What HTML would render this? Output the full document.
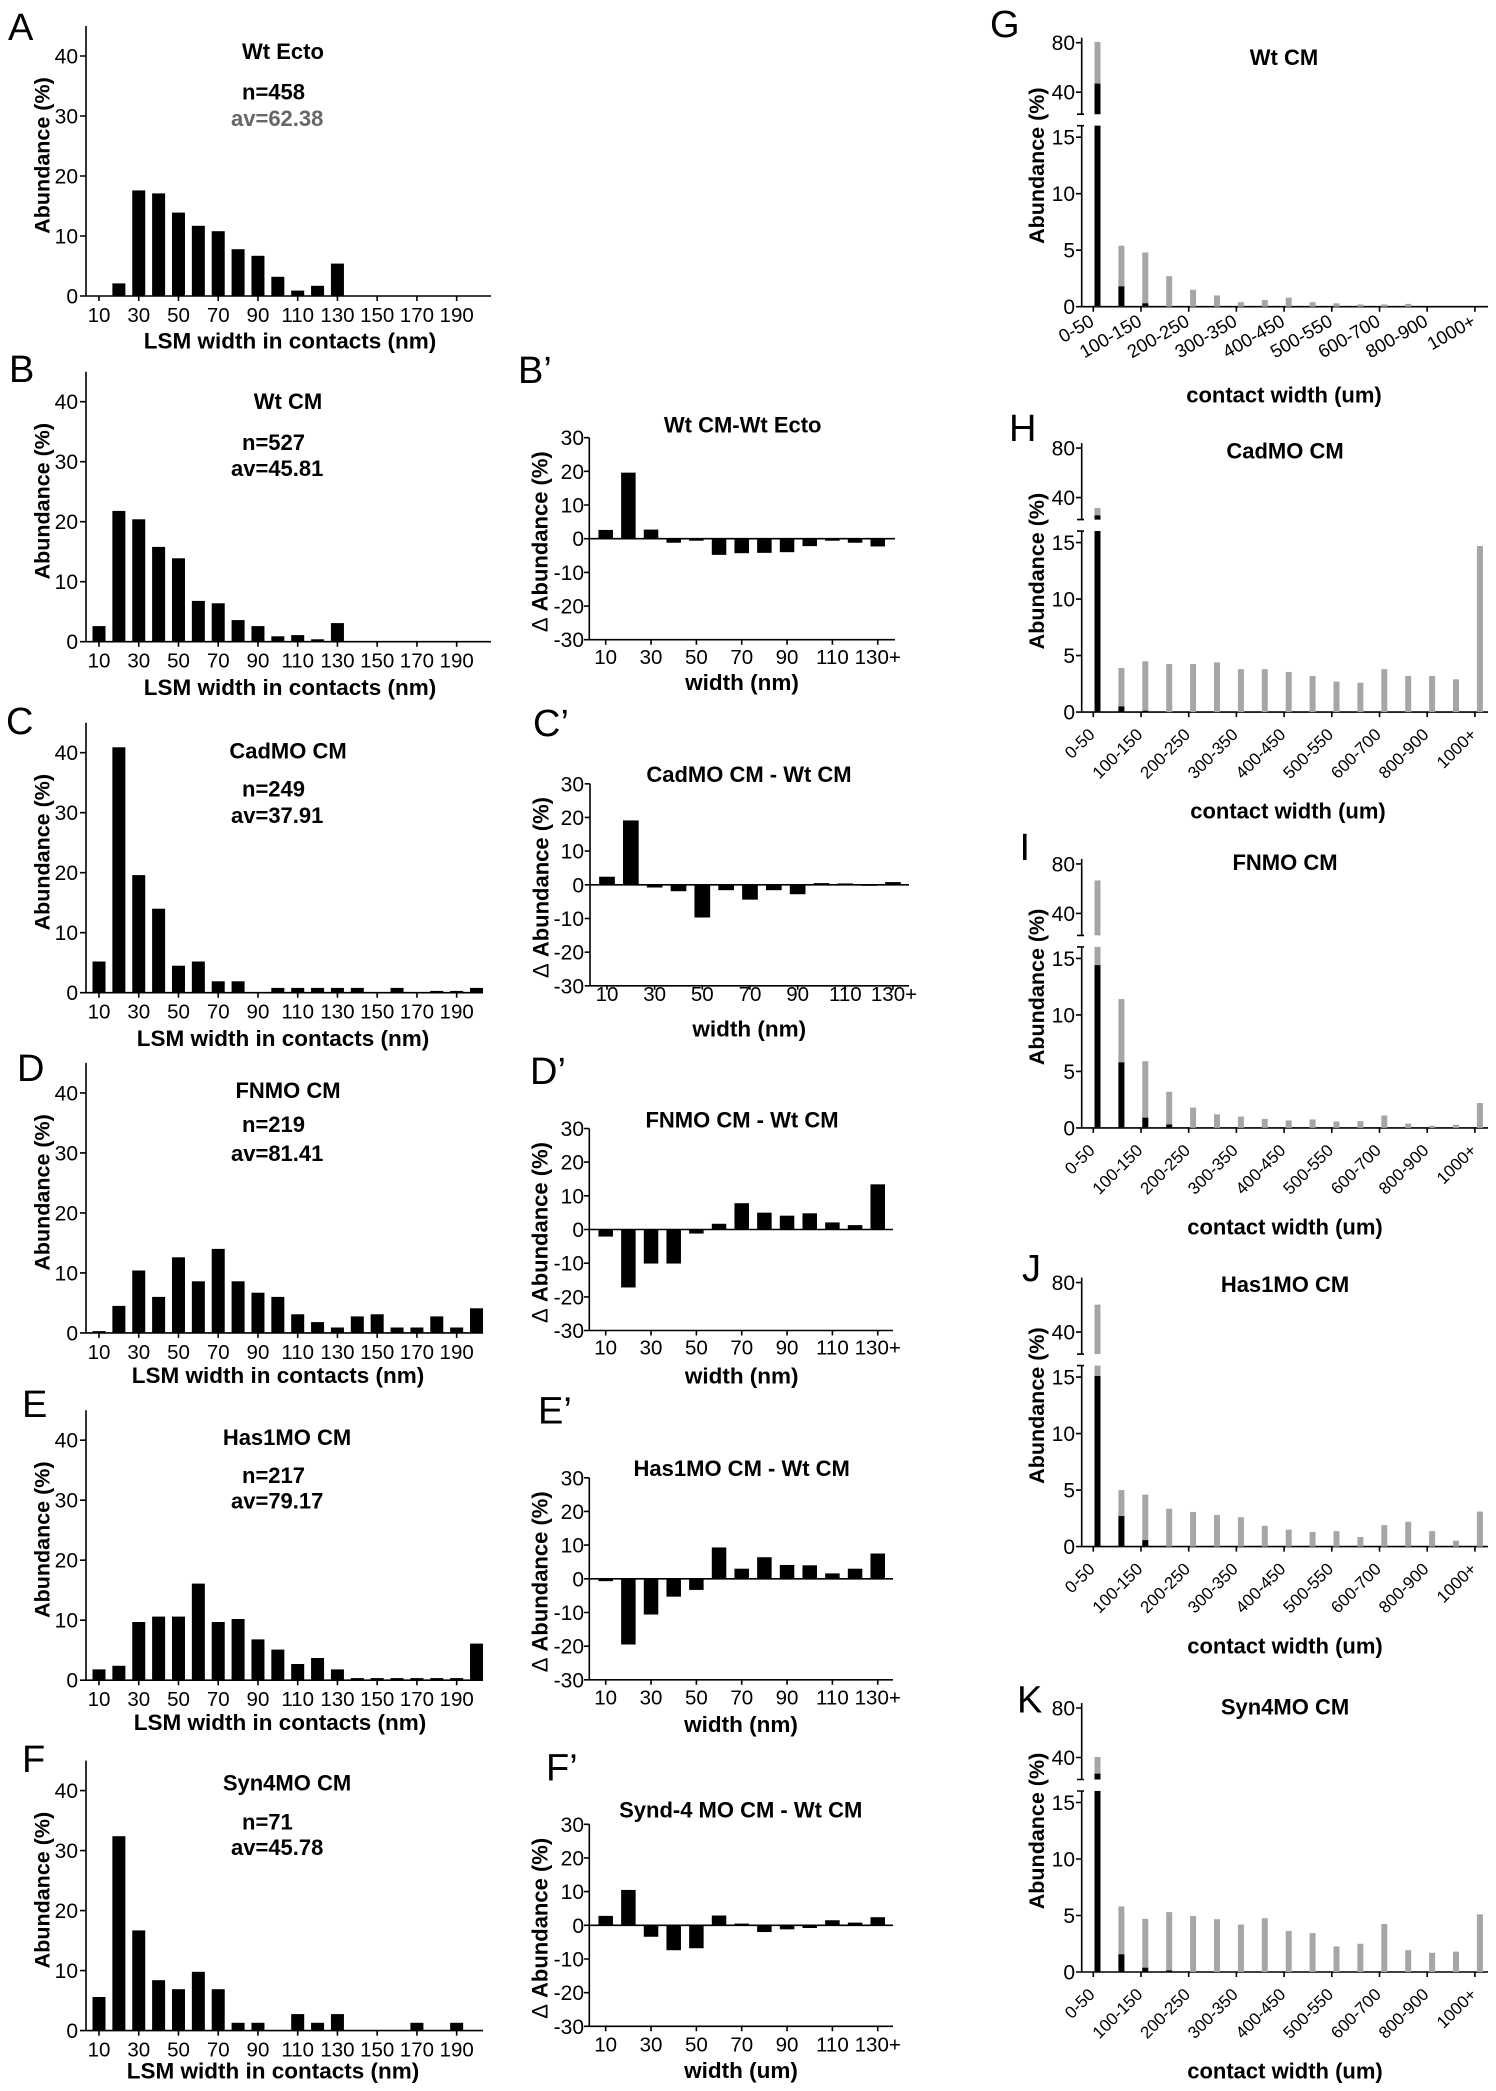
<!DOCTYPE html>
<html><head><meta charset="utf-8"><style>
html,body{margin:0;padding:0;background:#fff}
svg{display:block}
text{font-family:"Liberation Sans",Arial,sans-serif;fill:#000}
.ax{stroke:#000;stroke-width:1.6;fill:none}
.yt{font-size:21px;text-anchor:end}
.xt{font-size:20.5px;text-anchor:middle}
.b{font-size:22px;font-weight:bold}
.c{text-anchor:middle}
.xl{font-size:22.5px;font-weight:bold;text-anchor:middle}
.yl{font-size:21.5px;font-weight:bold;text-anchor:middle}
.L{font-size:38px}
.rx{font-size:17px;text-anchor:end}
.gx{font-size:18.5px;text-anchor:end}
.g{fill:#a6a6a6}
</style></head><body>
<svg width="1496" height="2091" viewBox="0 0 1496 2091" xmlns="http://www.w3.org/2000/svg">
<rect width="1496" height="2091" fill="#fff"/>

<!-- ================= LEFT PANELS ================= -->
<!-- A -->
<text class="L" x="8" y="40">A</text>
<text class="b c" x="283" y="59">Wt Ecto</text>
<text class="b" x="242" y="99.3">n=458</text>
<text class="b" x="231" y="126" style="fill:#666">av=62.38</text>
<text class="xl" x="290" y="348.3">LSM width in contacts (nm)</text>
<g transform="translate(0,296)">
<path class="ax" d="M86 -270V0H491M80 0H86M80 -60H86M80 -120H86M80 -180H86M80 -240H86M99 0v5M138.74 0v5M178.48 0v5M218.22 0v5M257.96 0v5M297.7 0v5M337.44 0v5M377.18 0v5M416.92 0v5M456.66 0v5"/>
<text class="yt" x="78" y="7.5">0</text><text class="yt" x="78" y="-52.5">10</text><text class="yt" x="78" y="-112.5">20</text><text class="yt" x="78" y="-172.5">30</text><text class="yt" x="78" y="-232.5">40</text>
<text class="xt" x="99" y="26">10</text><text class="xt" x="138.74" y="26">30</text><text class="xt" x="178.48" y="26">50</text><text class="xt" x="218.22" y="26">70</text><text class="xt" x="257.96" y="26">90</text><text class="xt" x="297.7" y="26">110</text><text class="xt" x="337.44" y="26">130</text><text class="xt" x="377.18" y="26">150</text><text class="xt" x="416.92" y="26">170</text><text class="xt" x="456.66" y="26">190</text>
<text class="yl" transform="translate(42,-140.5) rotate(-90)" dy="0.35em">Abundance (%)</text>
<g transform="scale(1,-6)">
<rect x="112.37" y="0" width="13" height="2.1"/><rect x="132.24" y="0" width="13" height="17.6"/><rect x="152.11" y="0" width="13" height="17.1"/><rect x="171.98" y="0" width="13" height="13.9"/><rect x="191.85" y="0" width="13" height="11.7"/><rect x="211.72" y="0" width="13" height="10.8"/><rect x="231.59" y="0" width="13" height="7.8"/><rect x="251.46" y="0" width="13" height="6.7"/><rect x="271.33" y="0" width="13" height="3.2"/><rect x="291.2" y="0" width="13" height="0.9"/><rect x="311.07" y="0" width="13" height="1.7"/><rect x="330.94" y="0" width="13" height="5.4"/>
</g></g>

<!-- B -->
<text class="L" x="9" y="382">B</text>
<text class="b c" x="288" y="409">Wt CM</text>
<text class="b" x="242" y="450">n=527</text>
<text class="b" x="231" y="476">av=45.81</text>
<text class="xl" x="290" y="695">LSM width in contacts (nm)</text>
<g transform="translate(0,641.7)">
<path class="ax" d="M86 -270V0H491M80 0H86M80 -60H86M80 -120H86M80 -180H86M80 -240H86M99 0v5M138.74 0v5M178.48 0v5M218.22 0v5M257.96 0v5M297.7 0v5M337.44 0v5M377.18 0v5M416.92 0v5M456.66 0v5"/>
<text class="yt" x="78" y="7.5">0</text><text class="yt" x="78" y="-52.5">10</text><text class="yt" x="78" y="-112.5">20</text><text class="yt" x="78" y="-172.5">30</text><text class="yt" x="78" y="-232.5">40</text>
<text class="xt" x="99" y="26">10</text><text class="xt" x="138.74" y="26">30</text><text class="xt" x="178.48" y="26">50</text><text class="xt" x="218.22" y="26">70</text><text class="xt" x="257.96" y="26">90</text><text class="xt" x="297.7" y="26">110</text><text class="xt" x="337.44" y="26">130</text><text class="xt" x="377.18" y="26">150</text><text class="xt" x="416.92" y="26">170</text><text class="xt" x="456.66" y="26">190</text>
<text class="yl" transform="translate(42,-140.5) rotate(-90)" dy="0.35em">Abundance (%)</text>
<g transform="scale(1,-6)">
<rect x="92.5" y="0" width="13" height="2.6"/><rect x="112.37" y="0" width="13" height="21.8"/><rect x="132.24" y="0" width="13" height="20.4"/><rect x="152.11" y="0" width="13" height="15.8"/><rect x="171.98" y="0" width="13" height="13.9"/><rect x="191.85" y="0" width="13" height="6.8"/><rect x="211.72" y="0" width="13" height="6.4"/><rect x="231.59" y="0" width="13" height="3.6"/><rect x="251.46" y="0" width="13" height="2.6"/><rect x="271.33" y="0" width="13" height="0.9"/><rect x="291.2" y="0" width="13" height="1.1"/><rect x="311.07" y="0" width="13" height="0.4"/><rect x="330.94" y="0" width="13" height="3.1"/>
</g></g>

<!-- C -->
<text class="L" x="6" y="734">C</text>
<text class="b c" x="288" y="758.5">CadMO CM</text>
<text class="b" x="242" y="796.3">n=249</text>
<text class="b" x="231" y="823">av=37.91</text>
<text class="xl" x="283" y="1046">LSM width in contacts (nm)</text>
<g transform="translate(0,992.7)">
<path class="ax" d="M86 -270V0H483M80 0H86M80 -60H86M80 -120H86M80 -180H86M80 -240H86M99 0v5M138.74 0v5M178.48 0v5M218.22 0v5M257.96 0v5M297.7 0v5M337.44 0v5M377.18 0v5M416.92 0v5M456.66 0v5"/>
<text class="yt" x="78" y="7.5">0</text><text class="yt" x="78" y="-52.5">10</text><text class="yt" x="78" y="-112.5">20</text><text class="yt" x="78" y="-172.5">30</text><text class="yt" x="78" y="-232.5">40</text>
<text class="xt" x="99" y="26">10</text><text class="xt" x="138.74" y="26">30</text><text class="xt" x="178.48" y="26">50</text><text class="xt" x="218.22" y="26">70</text><text class="xt" x="257.96" y="26">90</text><text class="xt" x="297.7" y="26">110</text><text class="xt" x="337.44" y="26">130</text><text class="xt" x="377.18" y="26">150</text><text class="xt" x="416.92" y="26">170</text><text class="xt" x="456.66" y="26">190</text>
<text class="yl" transform="translate(42,-140.5) rotate(-90)" dy="0.35em">Abundance (%)</text>
<g transform="scale(1,-6)">
<rect x="92.5" y="0" width="13" height="5.2"/><rect x="112.37" y="0" width="13" height="40.9"/><rect x="132.24" y="0" width="13" height="19.6"/><rect x="152.11" y="0" width="13" height="14"/><rect x="171.98" y="0" width="13" height="4.5"/><rect x="191.85" y="0" width="13" height="5.2"/><rect x="211.72" y="0" width="13" height="1.9"/><rect x="231.59" y="0" width="13" height="1.9"/><rect x="271.33" y="0" width="13" height="0.8"/><rect x="291.2" y="0" width="13" height="0.8"/><rect x="311.07" y="0" width="13" height="0.8"/><rect x="330.94" y="0" width="13" height="0.8"/><rect x="350.81" y="0" width="13" height="0.8"/><rect x="390.55" y="0" width="13" height="0.8"/><rect x="430.29" y="0" width="13" height="0.3"/><rect x="450.16" y="0" width="13" height="0.3"/><rect x="470.03" y="0" width="13" height="0.8"/>
</g></g>

<!-- D -->
<text class="L" x="17" y="1081">D</text>
<text class="b c" x="288" y="1098">FNMO CM</text>
<text class="b" x="242" y="1132">n=219</text>
<text class="b" x="231" y="1161">av=81.41</text>
<text class="xl" x="278" y="1383">LSM width in contacts (nm)</text>
<g transform="translate(0,1332.9)">
<path class="ax" d="M86 -270V0H483M80 0H86M80 -60H86M80 -120H86M80 -180H86M80 -240H86M99 0v5M138.74 0v5M178.48 0v5M218.22 0v5M257.96 0v5M297.7 0v5M337.44 0v5M377.18 0v5M416.92 0v5M456.66 0v5"/>
<text class="yt" x="78" y="7.5">0</text><text class="yt" x="78" y="-52.5">10</text><text class="yt" x="78" y="-112.5">20</text><text class="yt" x="78" y="-172.5">30</text><text class="yt" x="78" y="-232.5">40</text>
<text class="xt" x="99" y="26">10</text><text class="xt" x="138.74" y="26">30</text><text class="xt" x="178.48" y="26">50</text><text class="xt" x="218.22" y="26">70</text><text class="xt" x="257.96" y="26">90</text><text class="xt" x="297.7" y="26">110</text><text class="xt" x="337.44" y="26">130</text><text class="xt" x="377.18" y="26">150</text><text class="xt" x="416.92" y="26">170</text><text class="xt" x="456.66" y="26">190</text>
<text class="yl" transform="translate(42,-140.5) rotate(-90)" dy="0.35em">Abundance (%)</text>
<g transform="scale(1,-6)">
<rect x="92.5" y="0" width="13" height="0.3"/><rect x="112.37" y="0" width="13" height="4.5"/><rect x="132.24" y="0" width="13" height="10.4"/><rect x="152.11" y="0" width="13" height="6"/><rect x="171.98" y="0" width="13" height="12.6"/><rect x="191.85" y="0" width="13" height="8.6"/><rect x="211.72" y="0" width="13" height="14"/><rect x="231.59" y="0" width="13" height="8.6"/><rect x="251.46" y="0" width="13" height="6.7"/><rect x="271.33" y="0" width="13" height="6"/><rect x="291.2" y="0" width="13" height="3.1"/><rect x="311.07" y="0" width="13" height="1.8"/><rect x="330.94" y="0" width="13" height="0.9"/><rect x="350.81" y="0" width="13" height="2.75"/><rect x="370.68" y="0" width="13" height="3.1"/><rect x="390.55" y="0" width="13" height="0.9"/><rect x="410.42" y="0" width="13" height="0.9"/><rect x="430.29" y="0" width="13" height="2.75"/><rect x="450.16" y="0" width="13" height="0.9"/><rect x="470.03" y="0" width="13" height="4.1"/>
</g></g>

<!-- E -->
<text class="L" x="22" y="1417">E</text>
<text class="b c" x="287" y="1445">Has1MO CM</text>
<text class="b" x="242" y="1482.9">n=217</text>
<text class="b" x="231" y="1508.3">av=79.17</text>
<text class="xl" x="280" y="1730">LSM width in contacts (nm)</text>
<g transform="translate(0,1680.2)">
<path class="ax" d="M86 -270V0H483M80 0H86M80 -60H86M80 -120H86M80 -180H86M80 -240H86M99 0v5M138.74 0v5M178.48 0v5M218.22 0v5M257.96 0v5M297.7 0v5M337.44 0v5M377.18 0v5M416.92 0v5M456.66 0v5"/>
<text class="yt" x="78" y="7.5">0</text><text class="yt" x="78" y="-52.5">10</text><text class="yt" x="78" y="-112.5">20</text><text class="yt" x="78" y="-172.5">30</text><text class="yt" x="78" y="-232.5">40</text>
<text class="xt" x="99" y="26">10</text><text class="xt" x="138.74" y="26">30</text><text class="xt" x="178.48" y="26">50</text><text class="xt" x="218.22" y="26">70</text><text class="xt" x="257.96" y="26">90</text><text class="xt" x="297.7" y="26">110</text><text class="xt" x="337.44" y="26">130</text><text class="xt" x="377.18" y="26">150</text><text class="xt" x="416.92" y="26">170</text><text class="xt" x="456.66" y="26">190</text>
<text class="yl" transform="translate(42,-140.5) rotate(-90)" dy="0.35em">Abundance (%)</text>
<g transform="scale(1,-6)">
<rect x="92.5" y="0" width="13" height="1.8"/><rect x="112.37" y="0" width="13" height="2.4"/><rect x="132.24" y="0" width="13" height="9.7"/><rect x="152.11" y="0" width="13" height="10.6"/><rect x="171.98" y="0" width="13" height="10.6"/><rect x="191.85" y="0" width="13" height="16.1"/><rect x="211.72" y="0" width="13" height="9.7"/><rect x="231.59" y="0" width="13" height="10.2"/><rect x="251.46" y="0" width="13" height="6.8"/><rect x="271.33" y="0" width="13" height="5.1"/><rect x="291.2" y="0" width="13" height="2.7"/><rect x="311.07" y="0" width="13" height="3.7"/><rect x="330.94" y="0" width="13" height="1.8"/><rect x="350.81" y="0" width="13" height="0.35"/><rect x="370.68" y="0" width="13" height="0.35"/><rect x="390.55" y="0" width="13" height="0.35"/><rect x="410.42" y="0" width="13" height="0.35"/><rect x="430.29" y="0" width="13" height="0.35"/><rect x="450.16" y="0" width="13" height="0.35"/><rect x="470.03" y="0" width="13" height="6.1"/>
</g></g>

<!-- F -->
<text class="L" x="22" y="1772">F</text>
<text class="b c" x="287" y="1790.6">Syn4MO CM</text>
<text class="b" x="242" y="1829.7">n=71</text>
<text class="b" x="231" y="1855.2">av=45.78</text>
<text class="xl" x="273" y="2078.5">LSM width in contacts (nm)</text>
<g transform="translate(0,2030.6)">
<path class="ax" d="M86 -270V0H483M80 0H86M80 -60H86M80 -120H86M80 -180H86M80 -240H86M99 0v5M138.74 0v5M178.48 0v5M218.22 0v5M257.96 0v5M297.7 0v5M337.44 0v5M377.18 0v5M416.92 0v5M456.66 0v5"/>
<text class="yt" x="78" y="7.5">0</text><text class="yt" x="78" y="-52.5">10</text><text class="yt" x="78" y="-112.5">20</text><text class="yt" x="78" y="-172.5">30</text><text class="yt" x="78" y="-232.5">40</text>
<text class="xt" x="99" y="26">10</text><text class="xt" x="138.74" y="26">30</text><text class="xt" x="178.48" y="26">50</text><text class="xt" x="218.22" y="26">70</text><text class="xt" x="257.96" y="26">90</text><text class="xt" x="297.7" y="26">110</text><text class="xt" x="337.44" y="26">130</text><text class="xt" x="377.18" y="26">150</text><text class="xt" x="416.92" y="26">170</text><text class="xt" x="456.66" y="26">190</text>
<text class="yl" transform="translate(42,-140.5) rotate(-90)" dy="0.35em">Abundance (%)</text>
<g transform="scale(1,-6)">
<rect x="92.5" y="0" width="13" height="5.6"/><rect x="112.37" y="0" width="13" height="32.4"/><rect x="132.24" y="0" width="13" height="16.7"/><rect x="152.11" y="0" width="13" height="8.4"/><rect x="171.98" y="0" width="13" height="6.9"/><rect x="191.85" y="0" width="13" height="9.8"/><rect x="211.72" y="0" width="13" height="6.9"/><rect x="231.59" y="0" width="13" height="1.3"/><rect x="251.46" y="0" width="13" height="1.3"/><rect x="291.2" y="0" width="13" height="2.75"/><rect x="311.07" y="0" width="13" height="1.3"/><rect x="330.94" y="0" width="13" height="2.75"/><rect x="410.42" y="0" width="13" height="1.3"/><rect x="450.16" y="0" width="13" height="1.3"/>
</g></g>

<!-- ================= MIDDLE PANELS ================= -->
<!-- B' -->
<text class="L" x="518" y="383">B’</text>
<text class="b c" x="742.7" y="432.5">Wt CM-Wt Ecto</text>
<text class="xl" x="742" y="690">width (nm)</text>
<g transform="translate(0,538.7)">
<path class="ax" d="M589.3 -101V101H895M589.3 0H895M584 -101H589.3M584 -67.4H589.3M584 -33.7H589.3M584 0H589.3M584 33.7H589.3M584 67.4H589.3M584 101H589.3M605.7 101v5M651.04 101v5M696.38 101v5M741.72 101v5M787.06 101v5M832.4 101v5M877.74 101v5"/>
<text class="yt" x="584" y="-93.5">30</text><text class="yt" x="584" y="-59.9">20</text><text class="yt" x="584" y="-26.2">10</text><text class="yt" x="584" y="7.5">0</text><text class="yt" x="584" y="41.2">-10</text><text class="yt" x="584" y="74.9">-20</text><text class="yt" x="584" y="108.5">-30</text>
<text class="xt" x="605.7" y="125.3">10</text><text class="xt" x="651.04" y="125.3">30</text><text class="xt" x="696.38" y="125.3">50</text><text class="xt" x="741.72" y="125.3">70</text><text class="xt" x="787.06" y="125.3">90</text><text class="xt" x="832.4" y="125.3">110</text><text class="xt" x="877.74" y="125.3">130+</text>
<text class="yl" style="font-size:22px" transform="translate(540,3) rotate(-90)" dy="0.35em"><tspan style="font-weight:normal">Δ</tspan> Abundance (%)</text>
<g transform="scale(1,-3.37)">
<rect x="598.45" y="0" width="14.5" height="2.6"/><rect x="621.12" y="0" width="14.5" height="19.6"/><rect x="643.79" y="0" width="14.5" height="2.7"/><rect x="666.46" y="-1.2" width="14.5" height="1.2"/><rect x="689.13" y="-0.6" width="14.5" height="0.6"/><rect x="711.8" y="-4.8" width="14.5" height="4.8"/><rect x="734.47" y="-4.3" width="14.5" height="4.3"/><rect x="757.14" y="-4.2" width="14.5" height="4.2"/><rect x="779.81" y="-4" width="14.5" height="4"/><rect x="802.48" y="-2.2" width="14.5" height="2.2"/><rect x="825.15" y="-0.6" width="14.5" height="0.6"/><rect x="847.82" y="-1.2" width="14.5" height="1.2"/><rect x="870.49" y="-2.3" width="14.5" height="2.3"/>
</g></g>

<!-- C' -->
<text class="L" x="533" y="736">C’</text>
<text class="b c" x="749" y="782">CadMO CM - Wt CM</text>
<text class="xl" x="749.3" y="1036.5">width (nm)</text>
<g transform="translate(0,884.8)">
<path class="ax" d="M590 -101V101H909M590 0H909M584.7 -101H590M584.7 -67.4H590M584.7 -33.7H590M584.7 0H590M584.7 33.7H590M584.7 67.4H590M584.7 101H590M607 101v4M654.66 101v4M702.32 101v4M749.98 101v4M797.64 101v4M845.3 101v4M892.96 101v4"/>
<text class="yt" x="584" y="-93.5">30</text><text class="yt" x="584" y="-59.9">20</text><text class="yt" x="584" y="-26.2">10</text><text class="yt" x="584" y="7.5">0</text><text class="yt" x="584" y="41.2">-10</text><text class="yt" x="584" y="74.9">-20</text><text class="yt" x="584" y="108.5">-30</text>
<text class="xt" x="607" y="116">10</text><text class="xt" x="654.66" y="116">30</text><text class="xt" x="702.32" y="116">50</text><text class="xt" x="749.98" y="116">70</text><text class="xt" x="797.64" y="116">90</text><text class="xt" x="845.3" y="116">110</text><text class="xt" x="894" y="116">130+</text>
<text class="yl" style="font-size:22px" transform="translate(541,2.7) rotate(-90)" dy="0.35em"><tspan style="font-weight:normal">Δ</tspan> Abundance (%)</text>
<g transform="scale(1,-3.37)">
<rect x="599.15" y="0" width="15.7" height="2.4"/><rect x="622.98" y="0" width="15.7" height="19.1"/><rect x="646.81" y="-0.8" width="15.7" height="0.8"/><rect x="670.64" y="-1.9" width="15.7" height="1.9"/><rect x="694.47" y="-9.7" width="15.7" height="9.7"/><rect x="718.3" y="-1.6" width="15.7" height="1.6"/><rect x="742.13" y="-4.4" width="15.7" height="4.4"/><rect x="765.96" y="-1.6" width="15.7" height="1.6"/><rect x="789.79" y="-2.8" width="15.7" height="2.8"/><rect x="813.62" y="0" width="15.7" height="0.5"/><rect x="837.45" y="0" width="15.7" height="0.4"/><rect x="861.28" y="-0.3" width="15.7" height="0.3"/><rect x="885.11" y="0" width="15.7" height="0.8"/>
</g></g>

<!-- D' -->
<text class="L" x="530" y="1084">D’</text>
<text class="b c" x="742" y="1127.4">FNMO CM - Wt CM</text>
<text class="xl" x="741.7" y="1383.5">width (nm)</text>
<g transform="translate(0,1229.5)">
<path class="ax" d="M589.3 -101V101H893M589.3 0H893M584 -101H589.3M584 -67.4H589.3M584 -33.7H589.3M584 0H589.3M584 33.7H589.3M584 67.4H589.3M584 101H589.3M605.7 101v5M651.04 101v5M696.38 101v5M741.72 101v5M787.06 101v5M832.4 101v5M877.74 101v5"/>
<text class="yt" x="584" y="-93.5">30</text><text class="yt" x="584" y="-59.9">20</text><text class="yt" x="584" y="-26.2">10</text><text class="yt" x="584" y="7.5">0</text><text class="yt" x="584" y="41.2">-10</text><text class="yt" x="584" y="74.9">-20</text><text class="yt" x="584" y="108.5">-30</text>
<text class="xt" x="605.7" y="125">10</text><text class="xt" x="651.04" y="125">30</text><text class="xt" x="696.38" y="125">50</text><text class="xt" x="741.72" y="125">70</text><text class="xt" x="787.06" y="125">90</text><text class="xt" x="832.4" y="125">110</text><text class="xt" x="877.74" y="125">130+</text>
<text class="yl" style="font-size:22px" transform="translate(540,3) rotate(-90)" dy="0.35em"><tspan style="font-weight:normal">Δ</tspan> Abundance (%)</text>
<g transform="scale(1,-3.37)">
<rect x="598.45" y="-2.1" width="14.5" height="2.1"/><rect x="621.12" y="-17.2" width="14.5" height="17.2"/><rect x="643.79" y="-10.1" width="14.5" height="10.1"/><rect x="666.46" y="-10.1" width="14.5" height="10.1"/><rect x="689.13" y="-1.2" width="14.5" height="1.2"/><rect x="711.8" y="0" width="14.5" height="1.7"/><rect x="734.47" y="0" width="14.5" height="7.8"/><rect x="757.14" y="0" width="14.5" height="5"/><rect x="779.81" y="0" width="14.5" height="4.1"/><rect x="802.48" y="0" width="14.5" height="4.8"/><rect x="825.15" y="0" width="14.5" height="2.1"/><rect x="847.82" y="0" width="14.5" height="1.3"/><rect x="870.49" y="0" width="14.5" height="13.4"/>
</g></g>

<!-- E' -->
<text class="L" x="538" y="1423.5">E’</text>
<text class="b c" x="741.7" y="1476">Has1MO CM - Wt CM</text>
<text class="xl" x="741" y="1732">width (nm)</text>
<g transform="translate(0,1578.8)">
<path class="ax" d="M589.3 -101V101H893M589.3 0H893M584 -101H589.3M584 -67.4H589.3M584 -33.7H589.3M584 0H589.3M584 33.7H589.3M584 67.4H589.3M584 101H589.3M605.7 101v5M651.04 101v5M696.38 101v5M741.72 101v5M787.06 101v5M832.4 101v5M877.74 101v5"/>
<text class="yt" x="584" y="-93.5">30</text><text class="yt" x="584" y="-59.9">20</text><text class="yt" x="584" y="-26.2">10</text><text class="yt" x="584" y="7.5">0</text><text class="yt" x="584" y="41.2">-10</text><text class="yt" x="584" y="74.9">-20</text><text class="yt" x="584" y="108.5">-30</text>
<text class="xt" x="605.7" y="125.7">10</text><text class="xt" x="651.04" y="125.7">30</text><text class="xt" x="696.38" y="125.7">50</text><text class="xt" x="741.72" y="125.7">70</text><text class="xt" x="787.06" y="125.7">90</text><text class="xt" x="832.4" y="125.7">110</text><text class="xt" x="877.74" y="125.7">130+</text>
<text class="yl" style="font-size:22px" transform="translate(540,3) rotate(-90)" dy="0.35em"><tspan style="font-weight:normal">Δ</tspan> Abundance (%)</text>
<g transform="scale(1,-3.37)">
<rect x="598.45" y="-0.7" width="14.5" height="0.7"/><rect x="621.12" y="-19.5" width="14.5" height="19.5"/><rect x="643.79" y="-10.6" width="14.5" height="10.6"/><rect x="666.46" y="-5.3" width="14.5" height="5.3"/><rect x="689.13" y="-3.3" width="14.5" height="3.3"/><rect x="711.8" y="0" width="14.5" height="9.3"/><rect x="734.47" y="0" width="14.5" height="3"/><rect x="757.14" y="0" width="14.5" height="6.4"/><rect x="779.81" y="0" width="14.5" height="4.1"/><rect x="802.48" y="0" width="14.5" height="4"/><rect x="825.15" y="0" width="14.5" height="1.6"/><rect x="847.82" y="0" width="14.5" height="3"/><rect x="870.49" y="0" width="14.5" height="7.5"/>
</g></g>

<!-- F' -->
<text class="L" x="546" y="1780.6">F’</text>
<text class="b c" x="740.7" y="1817.4">Synd-4 MO CM - Wt CM</text>
<text class="xl" x="741" y="2078">width (um)</text>
<g transform="translate(0,1925.3)">
<path class="ax" d="M589.3 -101V101H893M589.3 0H893M584 -101H589.3M584 -67.4H589.3M584 -33.7H589.3M584 0H589.3M584 33.7H589.3M584 67.4H589.3M584 101H589.3M605.7 101v5M651.04 101v5M696.38 101v5M741.72 101v5M787.06 101v5M832.4 101v5M877.74 101v5"/>
<text class="yt" x="584" y="-93.5">30</text><text class="yt" x="584" y="-59.9">20</text><text class="yt" x="584" y="-26.2">10</text><text class="yt" x="584" y="7.5">0</text><text class="yt" x="584" y="41.2">-10</text><text class="yt" x="584" y="74.9">-20</text><text class="yt" x="584" y="108.5">-30</text>
<text class="xt" x="605.7" y="126.2">10</text><text class="xt" x="651.04" y="126.2">30</text><text class="xt" x="696.38" y="126.2">50</text><text class="xt" x="741.72" y="126.2">70</text><text class="xt" x="787.06" y="126.2">90</text><text class="xt" x="832.4" y="126.2">110</text><text class="xt" x="877.74" y="126.2">130+</text>
<text class="yl" style="font-size:22px" transform="translate(540,3) rotate(-90)" dy="0.35em"><tspan style="font-weight:normal">Δ</tspan> Abundance (%)</text>
<g transform="scale(1,-3.37)">
<rect x="598.45" y="0" width="14.5" height="2.8"/><rect x="621.12" y="0" width="14.5" height="10.5"/><rect x="643.79" y="-3.4" width="14.5" height="3.4"/><rect x="666.46" y="-7.4" width="14.5" height="7.4"/><rect x="689.13" y="-6.8" width="14.5" height="6.8"/><rect x="711.8" y="0" width="14.5" height="2.9"/><rect x="734.47" y="0" width="14.5" height="0.5"/><rect x="757.14" y="-2" width="14.5" height="2"/><rect x="779.81" y="-1.2" width="14.5" height="1.2"/><rect x="802.48" y="-0.8" width="14.5" height="0.8"/><rect x="825.15" y="0" width="14.5" height="1.5"/><rect x="847.82" y="0" width="14.5" height="0.8"/><rect x="870.49" y="0" width="14.5" height="2.4"/>
</g></g>

<!-- ================= RIGHT PANELS ================= -->
<!-- G -->
<text class="L" x="990" y="37">G</text>
<text class="b c" x="1284" y="64.8">Wt CM</text>
<text class="xl" style="font-size:22px" x="1284" y="402.5">contact width (um)</text>
<g transform="translate(0,306.7)">
<path class="ax" d="M1081.7 0V-181M1081.7 -192.5V-269M1081.7 0H1488M1077 -181H1084M1077 -192.5H1084M1076 0H1081.7M1076 -56.5H1081.7M1076 -113H1081.7M1076 -169.5H1081.7M1076 -214.5H1081.7M1076 -264H1081.7M1093.3 0v5M1141 0v5M1188.7 0v5M1236.4 0v5M1284.1 0v5M1331.8 0v5M1379.5 0v5M1427.2 0v5M1474.9 0v5"/>
<text class="yt" x="1075" y="7.5">0</text><text class="yt" x="1075" y="-49">5</text><text class="yt" x="1075" y="-105.5">10</text><text class="yt" x="1075" y="-162">15</text><text class="yt" x="1075" y="-207">40</text><text class="yt" x="1075" y="-256.5">80</text>
<text class="yl" transform="translate(1036.7,-141) rotate(-90)" dy="0.35em">Abundance (%)</text>
<text class="gx" transform="translate(1095.3,18) rotate(-30)">0-50</text><text class="gx" transform="translate(1143,18) rotate(-30)">100-150</text><text class="gx" transform="translate(1190.7,18) rotate(-30)">200-250</text><text class="gx" transform="translate(1238.4,18) rotate(-30)">300-350</text><text class="gx" transform="translate(1286.1,18) rotate(-30)">400-450</text><text class="gx" transform="translate(1333.8,18) rotate(-30)">500-550</text><text class="gx" transform="translate(1381.5,18) rotate(-30)">600-700</text><text class="gx" transform="translate(1429.2,18) rotate(-30)">800-900</text><text class="gx" transform="translate(1476.9,18) rotate(-30)">1000+</text>
<g transform="scale(1,-11.3)">
<rect class="g" x="1094.5" y="0" width="6" height="16.02"/><rect class="g" x="1118.4" y="0" width="6" height="5.4"/><rect class="g" x="1142.3" y="0" width="6" height="4.8"/><rect class="g" x="1166.2" y="0" width="6" height="2.7"/><rect class="g" x="1190.1" y="0" width="6" height="1.5"/><rect class="g" x="1214" y="0" width="6" height="1"/><rect class="g" x="1237.9" y="0" width="6" height="0.4"/><rect class="g" x="1261.8" y="0" width="6" height="0.6"/><rect class="g" x="1285.7" y="0" width="6" height="0.8"/><rect class="g" x="1309.6" y="0" width="6" height="0.4"/><rect class="g" x="1333.5" y="0" width="6" height="0.3"/><rect class="g" x="1357.4" y="0" width="6" height="0.2"/><rect class="g" x="1381.3" y="0" width="6" height="0.2"/><rect class="g" x="1405.2" y="0" width="6" height="0.25"/>
<rect x="1094.5" y="0" width="6" height="16.02"/><rect x="1118.4" y="0" width="6" height="1.8"/><rect x="1142.3" y="0" width="6" height="0.3"/>
</g>
<g transform="translate(0,-192.5) scale(1,-1)">
<rect class="g" x="1094.5" y="0" width="6" height="72.3"/><rect x="1094.5" y="0" width="6" height="30.6"/>
</g></g>

<!-- H -->
<text class="L" x="1009" y="441">H</text>
<text class="b c" x="1285" y="458.4">CadMO CM</text>
<text class="xl" style="font-size:22px" x="1288" y="818.5">contact width (um)</text>
<g transform="translate(0,712.1)">
<path class="ax" d="M1081.7 0V-181M1081.7 -192.5V-269M1081.7 0H1488M1077 -181H1084M1077 -192.5H1084M1076 0H1081.7M1076 -56.5H1081.7M1076 -113H1081.7M1076 -169.5H1081.7M1076 -214.5H1081.7M1076 -264H1081.7M1093.3 0v5M1141 0v5M1188.7 0v5M1236.4 0v5M1284.1 0v5M1331.8 0v5M1379.5 0v5M1427.2 0v5M1474.9 0v5"/>
<text class="yt" x="1075" y="7.5">0</text><text class="yt" x="1075" y="-49">5</text><text class="yt" x="1075" y="-105.5">10</text><text class="yt" x="1075" y="-162">15</text><text class="yt" x="1075" y="-207">40</text><text class="yt" x="1075" y="-256.5">80</text>
<text class="yl" transform="translate(1036.7,-141) rotate(-90)" dy="0.35em">Abundance (%)</text>
<text class="rx" transform="translate(1095.8,23.5) rotate(-45)">0-50</text><text class="rx" transform="translate(1143.5,23.5) rotate(-45)">100-150</text><text class="rx" transform="translate(1191.2,23.5) rotate(-45)">200-250</text><text class="rx" transform="translate(1238.9,23.5) rotate(-45)">300-350</text><text class="rx" transform="translate(1286.6,23.5) rotate(-45)">400-450</text><text class="rx" transform="translate(1334.3,23.5) rotate(-45)">500-550</text><text class="rx" transform="translate(1382,23.5) rotate(-45)">600-700</text><text class="rx" transform="translate(1429.7,23.5) rotate(-45)">800-900</text><text class="rx" transform="translate(1477.4,23.5) rotate(-45)">1000+</text>
<g transform="scale(1,-11.3)">
<rect class="g" x="1094.5" y="0" width="6" height="16.02"/><rect class="g" x="1118.4" y="0" width="6" height="3.9"/><rect class="g" x="1142.3" y="0" width="6" height="4.5"/><rect class="g" x="1166.2" y="0" width="6" height="4.25"/><rect class="g" x="1190.1" y="0" width="6" height="4.25"/><rect class="g" x="1214" y="0" width="6" height="4.4"/><rect class="g" x="1237.9" y="0" width="6" height="3.8"/><rect class="g" x="1261.8" y="0" width="6" height="3.8"/><rect class="g" x="1285.7" y="0" width="6" height="3.55"/><rect class="g" x="1309.6" y="0" width="6" height="3.2"/><rect class="g" x="1333.5" y="0" width="6" height="2.7"/><rect class="g" x="1357.4" y="0" width="6" height="2.6"/><rect class="g" x="1381.3" y="0" width="6" height="3.8"/><rect class="g" x="1405.2" y="0" width="6" height="3.2"/><rect class="g" x="1429.1" y="0" width="6" height="3.2"/><rect class="g" x="1453" y="0" width="6" height="2.9"/><rect class="g" x="1476.9" y="0" width="6" height="14.7"/>
<rect x="1094.5" y="0" width="6" height="16.02"/><rect x="1118.4" y="0" width="6" height="0.5"/><rect x="1142.3" y="0" width="6" height="0.12"/>
</g>
<g transform="translate(0,-192.5) scale(1,-1)">
<rect class="g" x="1094.5" y="0" width="6" height="11.7"/><rect x="1094.5" y="0" width="6" height="4.2"/>
</g></g>

<!-- I -->
<text class="L" x="1019.5" y="859.8">I</text>
<text class="b c" x="1285" y="870">FNMO CM</text>
<text class="xl" style="font-size:22px" x="1285" y="1234.3">contact width (um)</text>
<g transform="translate(0,1127.9)">
<path class="ax" d="M1081.7 0V-181M1081.7 -192.5V-269M1081.7 0H1488M1077 -181H1084M1077 -192.5H1084M1076 0H1081.7M1076 -56.5H1081.7M1076 -113H1081.7M1076 -169.5H1081.7M1076 -214.5H1081.7M1076 -264H1081.7M1093.3 0v5M1141 0v5M1188.7 0v5M1236.4 0v5M1284.1 0v5M1331.8 0v5M1379.5 0v5M1427.2 0v5M1474.9 0v5"/>
<text class="yt" x="1075" y="7.5">0</text><text class="yt" x="1075" y="-49">5</text><text class="yt" x="1075" y="-105.5">10</text><text class="yt" x="1075" y="-162">15</text><text class="yt" x="1075" y="-207">40</text><text class="yt" x="1075" y="-256.5">80</text>
<text class="yl" transform="translate(1036.7,-141) rotate(-90)" dy="0.35em">Abundance (%)</text>
<text class="rx" transform="translate(1095.8,23.5) rotate(-45)">0-50</text><text class="rx" transform="translate(1143.5,23.5) rotate(-45)">100-150</text><text class="rx" transform="translate(1191.2,23.5) rotate(-45)">200-250</text><text class="rx" transform="translate(1238.9,23.5) rotate(-45)">300-350</text><text class="rx" transform="translate(1286.6,23.5) rotate(-45)">400-450</text><text class="rx" transform="translate(1334.3,23.5) rotate(-45)">500-550</text><text class="rx" transform="translate(1382,23.5) rotate(-45)">600-700</text><text class="rx" transform="translate(1429.7,23.5) rotate(-45)">800-900</text><text class="rx" transform="translate(1477.4,23.5) rotate(-45)">1000+</text>
<g transform="scale(1,-11.3)">
<rect class="g" x="1094.5" y="0" width="6" height="16.02"/><rect class="g" x="1118.4" y="0" width="6" height="11.4"/><rect class="g" x="1142.3" y="0" width="6" height="5.9"/><rect class="g" x="1166.2" y="0" width="6" height="3.2"/><rect class="g" x="1190.1" y="0" width="6" height="1.8"/><rect class="g" x="1214" y="0" width="6" height="1.2"/><rect class="g" x="1237.9" y="0" width="6" height="1"/><rect class="g" x="1261.8" y="0" width="6" height="0.8"/><rect class="g" x="1285.7" y="0" width="6" height="0.66"/><rect class="g" x="1309.6" y="0" width="6" height="0.75"/><rect class="g" x="1333.5" y="0" width="6" height="0.57"/><rect class="g" x="1357.4" y="0" width="6" height="0.6"/><rect class="g" x="1381.3" y="0" width="6" height="1.1"/><rect class="g" x="1405.2" y="0" width="6" height="0.38"/><rect class="g" x="1429.1" y="0" width="6" height="0.19"/><rect class="g" x="1453" y="0" width="6" height="0.28"/><rect class="g" x="1476.9" y="0" width="6" height="2.2"/>
<rect x="1094.5" y="0" width="6" height="14.4"/><rect x="1118.4" y="0" width="6" height="5.8"/><rect x="1142.3" y="0" width="6" height="0.9"/><rect x="1166.2" y="0" width="6" height="0.3"/>
</g>
<g transform="translate(0,-192.5) scale(1,-1)">
<rect class="g" x="1094.5" y="0" width="6" height="55"/>
</g></g>

<!-- J -->
<text class="L" x="1022" y="1281">J</text>
<text class="b c" x="1285" y="1292">Has1MO CM</text>
<text class="xl" style="font-size:22px" x="1285" y="1653.5">contact width (um)</text>
<g transform="translate(0,1546.6)">
<path class="ax" d="M1081.7 0V-181M1081.7 -192.5V-269M1081.7 0H1488M1077 -181H1084M1077 -192.5H1084M1076 0H1081.7M1076 -56.5H1081.7M1076 -113H1081.7M1076 -169.5H1081.7M1076 -214.5H1081.7M1076 -264H1081.7M1093.3 0v5M1141 0v5M1188.7 0v5M1236.4 0v5M1284.1 0v5M1331.8 0v5M1379.5 0v5M1427.2 0v5M1474.9 0v5"/>
<text class="yt" x="1075" y="7.5">0</text><text class="yt" x="1075" y="-49">5</text><text class="yt" x="1075" y="-105.5">10</text><text class="yt" x="1075" y="-162">15</text><text class="yt" x="1075" y="-207">40</text><text class="yt" x="1075" y="-256.5">80</text>
<text class="yl" transform="translate(1036.7,-141) rotate(-90)" dy="0.35em">Abundance (%)</text>
<text class="rx" transform="translate(1095.8,23.5) rotate(-45)">0-50</text><text class="rx" transform="translate(1143.5,23.5) rotate(-45)">100-150</text><text class="rx" transform="translate(1191.2,23.5) rotate(-45)">200-250</text><text class="rx" transform="translate(1238.9,23.5) rotate(-45)">300-350</text><text class="rx" transform="translate(1286.6,23.5) rotate(-45)">400-450</text><text class="rx" transform="translate(1334.3,23.5) rotate(-45)">500-550</text><text class="rx" transform="translate(1382,23.5) rotate(-45)">600-700</text><text class="rx" transform="translate(1429.7,23.5) rotate(-45)">800-900</text><text class="rx" transform="translate(1477.4,23.5) rotate(-45)">1000+</text>
<g transform="scale(1,-11.3)">
<rect class="g" x="1094.5" y="0" width="6" height="16.02"/><rect class="g" x="1118.4" y="0" width="6" height="5"/><rect class="g" x="1142.3" y="0" width="6" height="4.6"/><rect class="g" x="1166.2" y="0" width="6" height="3.35"/><rect class="g" x="1190.1" y="0" width="6" height="3.07"/><rect class="g" x="1214" y="0" width="6" height="2.8"/><rect class="g" x="1237.9" y="0" width="6" height="2.6"/><rect class="g" x="1261.8" y="0" width="6" height="1.84"/><rect class="g" x="1285.7" y="0" width="6" height="1.5"/><rect class="g" x="1309.6" y="0" width="6" height="1.3"/><rect class="g" x="1333.5" y="0" width="6" height="1.37"/><rect class="g" x="1357.4" y="0" width="6" height="0.85"/><rect class="g" x="1381.3" y="0" width="6" height="1.9"/><rect class="g" x="1405.2" y="0" width="6" height="2.2"/><rect class="g" x="1429.1" y="0" width="6" height="1.37"/><rect class="g" x="1453" y="0" width="6" height="0.52"/><rect class="g" x="1476.9" y="0" width="6" height="3.1"/>
<rect x="1094.5" y="0" width="6" height="15.1"/><rect x="1118.4" y="0" width="6" height="2.7"/><rect x="1142.3" y="0" width="6" height="0.57"/>
</g>
<g transform="translate(0,-192.5) scale(1,-1)">
<rect class="g" x="1094.5" y="0" width="6" height="49.5"/>
</g></g>

<!-- K -->
<text class="L" x="1017" y="1712.4">K</text>
<text class="b c" x="1285" y="1714.6">Syn4MO CM</text>
<text class="xl" style="font-size:22px" x="1285" y="2078.4">contact width (um)</text>
<g transform="translate(0,1972)">
<path class="ax" d="M1081.7 0V-181M1081.7 -192.5V-269M1081.7 0H1488M1077 -181H1084M1077 -192.5H1084M1076 0H1081.7M1076 -56.5H1081.7M1076 -113H1081.7M1076 -169.5H1081.7M1076 -214.5H1081.7M1076 -264H1081.7M1093.3 0v5M1141 0v5M1188.7 0v5M1236.4 0v5M1284.1 0v5M1331.8 0v5M1379.5 0v5M1427.2 0v5M1474.9 0v5"/>
<text class="yt" x="1075" y="7.5">0</text><text class="yt" x="1075" y="-49">5</text><text class="yt" x="1075" y="-105.5">10</text><text class="yt" x="1075" y="-162">15</text><text class="yt" x="1075" y="-207">40</text><text class="yt" x="1075" y="-256.5">80</text>
<text class="yl" transform="translate(1036.7,-141) rotate(-90)" dy="0.35em">Abundance (%)</text>
<text class="rx" transform="translate(1095.8,23.5) rotate(-45)">0-50</text><text class="rx" transform="translate(1143.5,23.5) rotate(-45)">100-150</text><text class="rx" transform="translate(1191.2,23.5) rotate(-45)">200-250</text><text class="rx" transform="translate(1238.9,23.5) rotate(-45)">300-350</text><text class="rx" transform="translate(1286.6,23.5) rotate(-45)">400-450</text><text class="rx" transform="translate(1334.3,23.5) rotate(-45)">500-550</text><text class="rx" transform="translate(1382,23.5) rotate(-45)">600-700</text><text class="rx" transform="translate(1429.7,23.5) rotate(-45)">800-900</text><text class="rx" transform="translate(1477.4,23.5) rotate(-45)">1000+</text>
<g transform="scale(1,-11.3)">
<rect class="g" x="1094.5" y="0" width="6" height="16.02"/><rect class="g" x="1118.4" y="0" width="6" height="5.8"/><rect class="g" x="1142.3" y="0" width="6" height="4.7"/><rect class="g" x="1166.2" y="0" width="6" height="5.3"/><rect class="g" x="1190.1" y="0" width="6" height="4.95"/><rect class="g" x="1214" y="0" width="6" height="4.67"/><rect class="g" x="1237.9" y="0" width="6" height="4.2"/><rect class="g" x="1261.8" y="0" width="6" height="4.76"/><rect class="g" x="1285.7" y="0" width="6" height="3.63"/><rect class="g" x="1309.6" y="0" width="6" height="3.44"/><rect class="g" x="1333.5" y="0" width="6" height="2.26"/><rect class="g" x="1357.4" y="0" width="6" height="2.5"/><rect class="g" x="1381.3" y="0" width="6" height="4.25"/><rect class="g" x="1405.2" y="0" width="6" height="1.93"/><rect class="g" x="1429.1" y="0" width="6" height="1.7"/><rect class="g" x="1453" y="0" width="6" height="1.8"/><rect class="g" x="1476.9" y="0" width="6" height="5.1"/>
<rect x="1094.5" y="0" width="6" height="16.02"/><rect x="1118.4" y="0" width="6" height="1.56"/><rect x="1142.3" y="0" width="6" height="0.38"/><rect x="1166.2" y="0" width="6" height="0.14"/>
</g>
<g transform="translate(0,-192.5) scale(1,-1)">
<rect class="g" x="1094.5" y="0" width="6" height="22.5"/><rect x="1094.5" y="0" width="6" height="5.8"/>
</g></g>
</svg>
</body></html>
